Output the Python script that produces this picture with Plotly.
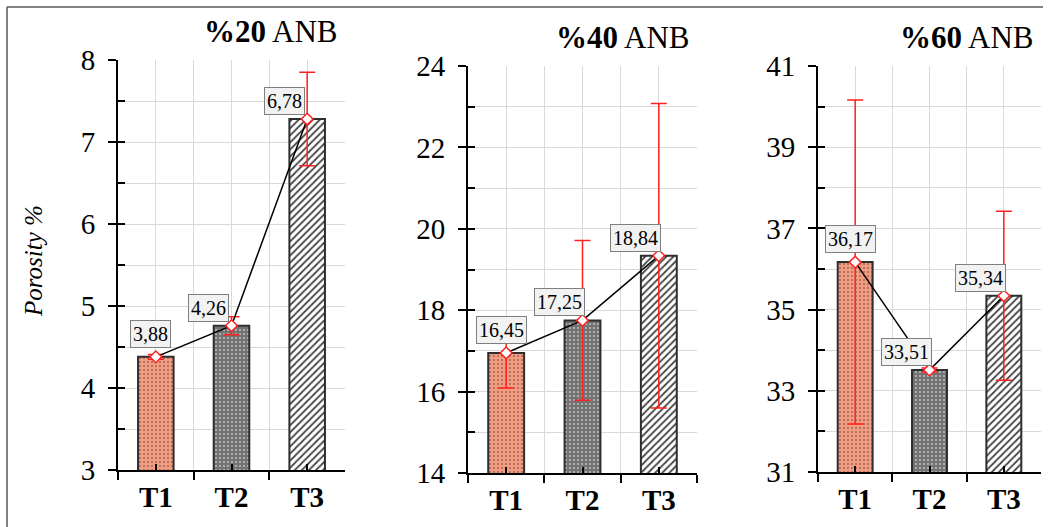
import plotly.graph_objects as go

categories = ["T1", "T2", "T3"]

titles = ["%20", "%40", "%60"]

# bar heights / point positions per panel
values_20 = [4.38, 4.76, 7.28]
values_40 = [16.95, 17.75, 19.34]
values_60 = [36.17, 33.51, 35.34]

# error bar half-lengths
errors_20 = [0.03, 0.11, 0.57]
errors_40 = [0.86, 1.96, 3.74]
errors_60 = [3.99, 0.05, 2.08]

# printed data labels
labels_20 = ["3,88", "4,26", "6,78"]
labels_40 = ["16,45", "17,25", "18,84"]
labels_60 = ["36,17", "33,51", "35,34"]

# y-axis ranges and tick steps
y_ranges = [[3, 8], [14, 24], [31, 41]]
y_major = [1, 2, 2]
y_minor = [0.5, 1, 1]

W, H = 1048, 527
FONT = "Liberation Serif"

panels = [
    (values_20, errors_20, labels_20),
    (values_40, errors_40, labels_40),
    (values_60, errors_60, labels_60),
]

# pixel boxes of the plot areas: (left, right, top, bottom)
boxes = [(118, 345, 60, 470), (468, 697, 66, 473), (818, 1041, 66, 472)]

fig = go.Figure()

bar_fill = ["#F59B80", "#737373", "#FFFFFF"]
pat_shape = [".", ".", "/"]
pat_fg = ["#FBD0C0", "#9A9A9A", "#111111"]
pat_size = [4, 4, 5]
pat_solid = [0.12, 0.12, 0.35]

GRID = "#D9D9D9"

layout = dict(
    width=W, height=H,
    margin=dict(l=0, r=0, t=0, b=0),
    paper_bgcolor="white", plot_bgcolor="white",
    showlegend=False,
    font=dict(family=FONT, color="black"),
    bargap=0.53,
)

annotations = []
for i, (vals, errs, labs) in enumerate(panels):
    n = i + 1
    xa = "x" if n == 1 else f"x{n}"
    ya = "y" if n == 1 else f"y{n}"
    xo = f"x{n+3}"
    yo = f"y{n+3}"
    l, r, t, b = boxes[i]
    xdom = [l / W, r / W]
    ydom = [1 - b / H, 1 - t / H]
    lo, hi = y_ranges[i]

    fig.add_trace(go.Bar(
        x=categories, y=vals, xaxis=xa, yaxis=ya,
        marker=dict(
            color=bar_fill,
            line=dict(color="#2E2E2E", width=2),
            pattern=dict(shape=pat_shape, fgcolor=pat_fg, fgopacity=1,
                         size=pat_size, solidity=pat_solid, fillmode="overlay"),
        ),
        hoverinfo="skip",
    ))
    fig.add_trace(go.Scatter(
        x=categories, y=vals, xaxis=xa, yaxis=ya,
        mode="lines+markers",
        line=dict(color="black", width=1.5),
        marker=dict(symbol="diamond", size=9, color="white",
                    line=dict(color="#FF2020", width=1.5)),
        error_y=dict(type="data", array=errs, visible=True,
                     color="#FF2020", thickness=1.5, width=8),
        hoverinfo="skip",
    ))
    # invisible helpers so the overlay axes (minor ticks / grid) get drawn
    fig.add_trace(go.Scatter(
        x=categories, y=vals, xaxis=xo, yaxis=ya, mode="markers",
        marker=dict(opacity=0, size=1), hoverinfo="skip",
    ))
    fig.add_trace(go.Scatter(
        x=categories, y=vals, xaxis=xa, yaxis=yo, mode="markers",
        marker=dict(opacity=0, size=1), hoverinfo="skip",
    ))

    layout["xaxis" if n == 1 else f"xaxis{n}"] = dict(
        domain=xdom, anchor=ya, type="category",
        categoryarray=categories, range=[-0.5, len(categories) - 0.5],
        tickson="boundaries", ticks="outside", ticklen=8, tickwidth=2,
        tickcolor="black", showline=True, linecolor="black", linewidth=2,
        showgrid=True, gridcolor=GRID, gridwidth=1,
        tickfont=dict(family=FONT, size=29, color="black", weight="bold"),
        automargin=False, fixedrange=True,
    )
    layout[f"xaxis{n+3}"] = dict(
        overlaying=xa, anchor=ya, domain=xdom, type="category",
        categoryarray=categories, range=[-0.5, len(categories) - 0.5],
        ticks="inside", ticklen=6, tickwidth=2, tickcolor="black",
        showticklabels=False, showline=False,
        showgrid=True, gridcolor=GRID, gridwidth=1, zeroline=False,
        automargin=False, fixedrange=True,
    )
    layout["yaxis" if n == 1 else f"yaxis{n}"] = dict(
        domain=ydom, anchor=xa, range=[lo, hi],
        dtick=y_major[i], tick0=lo,
        ticks="outside", ticklen=8, tickwidth=2, tickcolor="black",
        showline=True, linecolor="black", linewidth=2,
        showgrid=True, gridcolor=GRID, gridwidth=1, zeroline=False,
        tickfont=dict(family=FONT, size=29, color="black"),
        ticklabelstandoff=7,
        automargin=False, fixedrange=True,
    )
    layout[f"yaxis{n+3}"] = dict(
        overlaying=ya, anchor=xa, domain=ydom, range=[lo, hi],
        dtick=y_minor[i], tick0=lo,
        ticks="inside", ticklen=7, tickwidth=2, tickcolor="black",
        showticklabels=False, showline=False,
        showgrid=True, gridcolor=GRID, gridwidth=1, zeroline=False,
        automargin=False, fixedrange=True,
    )

    # panel title
    annotations.append(dict(
        text=f"<b>{titles[i]}</b> ANB", xref=f"{xa} domain", yref=f"{ya} domain",
        x=1, y=1, xanchor="right", yanchor="middle", xshift=-5, yshift=29,
        showarrow=False, font=dict(family=FONT, size=31, color="black"),
    ))
    # data labels
    for j, (c, v, lab) in enumerate(zip(categories, vals, labs)):
        dx, dy = (-5, 23) if j == 0 else (-23, 18)
        annotations.append(dict(
            text=lab, xref=xa, yref=ya, x=c, y=v,
            xshift=dx, yshift=dy, showarrow=False,
            bgcolor="#F2F2F2", bordercolor="#7F7F7F", borderwidth=1, borderpad=2,
            font=dict(family=FONT, size=20, color="black"),
        ))

annotations.append(dict(
    text="<i>Porosity %</i>", xref="paper", yref="paper",
    x=33 / W, y=1 - 261 / H, xanchor="center", yanchor="middle",
    textangle=-90, showarrow=False,
    font=dict(family=FONT, size=25, color="black"),
))

layout["annotations"] = annotations
layout["shapes"] = [
    dict(type="line", xref="paper", yref="paper",
         x0=7 / W, x1=1043 / W, y0=1 - 7 / H, y1=1 - 7 / H,
         line=dict(color="#595959", width=1.5)),
    dict(type="line", xref="paper", yref="paper",
         x0=7 / W, x1=7 / W, y0=0, y1=1 - 7 / H,
         line=dict(color="#595959", width=1.5)),
]

fig.update_layout(**layout)
fig.write_html(
    "out.html",
    config={"displayModeBar": False},
    post_script="document.body.style.margin='0';document.body.style.overflow='hidden';",
)
